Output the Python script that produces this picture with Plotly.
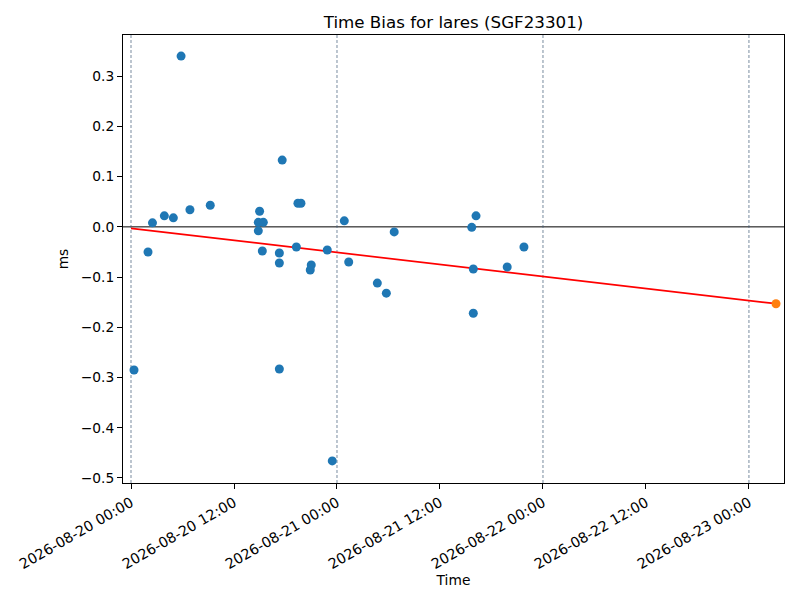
import plotly.graph_objects as go

title = "Time Bias for lares (SGF23301)"

times = [
    "2026-08-20 00:21", "2026-08-20 01:59", "2026-08-20 02:30", "2026-08-20 03:53",
    "2026-08-20 04:56", "2026-08-20 05:50", "2026-08-20 06:52", "2026-08-20 09:14",
    "2026-08-20 14:59", "2026-08-20 14:50", "2026-08-20 15:25", "2026-08-20 14:50",
    "2026-08-20 15:18", "2026-08-20 17:17", "2026-08-20 17:17", "2026-08-20 17:17",
    "2026-08-20 17:37", "2026-08-20 19:16", "2026-08-20 19:27", "2026-08-20 19:48",
    "2026-08-20 20:53", "2026-08-20 21:00", "2026-08-20 22:52", "2026-08-20 23:27",
    "2026-08-21 00:51", "2026-08-21 01:22", "2026-08-21 04:42", "2026-08-21 05:45",
    "2026-08-21 06:40", "2026-08-21 15:42", "2026-08-21 16:12", "2026-08-21 15:53",
    "2026-08-21 15:53", "2026-08-21 19:50", "2026-08-21 21:47",
]
bias_ms = [
    -0.285, -0.050, 0.008, 0.022,
    0.018, 0.340, 0.034, 0.043,
    0.031, 0.009, 0.009, -0.008,
    -0.048, -0.052, -0.072, -0.283,
    0.133, -0.040, 0.047, 0.047,
    -0.086, -0.076, -0.046, -0.466,
    0.012, -0.070, -0.112, -0.132,
    -0.010, -0.001, 0.022, -0.084,
    -0.172, -0.080, -0.040,
]

fit_times = ["2026-08-20 00:00", "2026-08-23 03:09"]
fit_values = [-0.003, -0.153]

pred_time = ["2026-08-23 03:09"]
pred_value = [-0.153]

day_lines = ["2026-08-20 00:00", "2026-08-21 00:00", "2026-08-22 00:00", "2026-08-23 00:00"]

x_range = ["2026-08-19 23:04", "2026-08-23 04:05"]
y_range = [-0.510, 0.382]
y_ticks = [-0.5, -0.4, -0.3, -0.2, -0.1, 0.0, 0.1, 0.2, 0.3]
y_ticktext = ["\u22120.5", "\u22120.4", "\u22120.3", "\u22120.2", "\u22120.1", "0.0", "0.1", "0.2", "0.3"]

fig = go.Figure()

fig.add_trace(go.Scatter(
    x=fit_times, y=fit_values, mode="lines",
    line=dict(color="red", width=1.7), showlegend=False, hoverinfo="skip",
))
fig.add_trace(go.Scatter(
    x=times, y=bias_ms, mode="markers",
    marker=dict(color="#1f77b4", size=9), showlegend=False,
))
fig.add_trace(go.Scatter(
    x=pred_time, y=pred_value, mode="markers",
    marker=dict(color="#ff7f0e", size=9), showlegend=False,
))

shapes = [dict(type="line", xref="paper", x0=0, x1=1, yref="y", y0=0, y1=0,
               line=dict(color="black", width=1), layer="below")]
for d in day_lines:
    shapes.append(dict(type="line", xref="x", x0=d, x1=d, yref="paper", y0=0, y1=1,
                       line=dict(color="#3f5a75", width=0.7, dash="3px,2px"), layer="below"))

fig.update_layout(
    width=800, height=600,
    margin=dict(l=115, r=24, t=27, b=125),
    paper_bgcolor="white", plot_bgcolor="white",
    font=dict(family="DejaVu Sans", size=13.8, color="black"),
    title=dict(text=title, x=0.5, xref="paper", y=1 - 14 / 600, yanchor="middle",
               font=dict(size=16.7)),
    shapes=shapes,
)
fig.update_xaxes(
    type="date", range=x_range, automargin=False,
    dtick=12 * 3600 * 1000, tick0="2026-08-20 00:00", tickformat="%Y-%m-%d %H:%M",
    tickangle=-30, ticks="outside", ticklen=5, tickcolor="black",
    tickfont=dict(size=14.3),
    showgrid=False, zeroline=False, showline=True, linecolor="black", linewidth=1,
    mirror=True, title=dict(text="Time", font=dict(size=13.8), standoff=2),
)
fig.update_yaxes(
    range=y_range, tickvals=y_ticks, ticktext=y_ticktext, automargin=False,
    ticks="outside", ticklen=5, tickcolor="black",
    showgrid=False, zeroline=False, showline=True, linecolor="black", linewidth=1,
    mirror=True, title=dict(text="ms", font=dict(size=13.8), standoff=8),
)

fig.write_html("out.html")
